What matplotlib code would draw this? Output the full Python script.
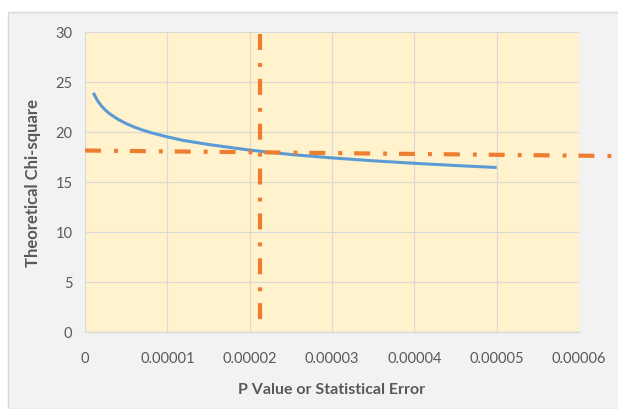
import matplotlib
matplotlib.use("Agg")
from matplotlib import pyplot as plt
from matplotlib.patches import Rectangle

# curve: theoretical chi-square vs p value
p_values = [0.000001, 0.0000015, 0.000002, 0.0000025, 0.000003, 0.000004,
            0.000005, 0.000006, 0.000007, 0.000008, 0.00001, 0.000012,
            0.000015, 0.00002, 0.000025, 0.00003, 0.000035, 0.00004,
            0.000045, 0.00005]
chi_square = [23.93, 23.16, 22.60, 22.17, 21.82, 21.27,
              20.84, 20.49, 20.19, 19.94, 19.51, 19.15,
              18.75, 18.19, 17.75, 17.41, 17.12, 16.87,
              16.65, 16.45]

# hand-drawn guide lines
h_line_x = [0.0, 0.000064]
h_line_y = [18.15, 17.6]
v_line_x = [0.0000213, 0.0000213]
v_line_y = [29.8, 0.3]

x_ticks = [0, 0.00001, 0.00002, 0.00003, 0.00004, 0.00005, 0.00006]
x_tick_labels = ["0", "0.00001", "0.00002", "0.00003", "0.00004", "0.00005", "0.00006"]
y_ticks = [0, 5, 10, 15, 20, 25, 30]

plt.rcParams['font.family'] = ['Liberation Sans Narrow', 'Lato', 'DejaVu Sans']
plt.rcParams['lines.scale_dashes'] = False

text_color = "#595959"
grid_color = "#D9D9D9"
orange = "#ED7D31"
blue = "#5B9BD5"

fig = plt.figure(figsize=(6.18, 4.10), dpi=100)
fig.patch.set_facecolor("white")
# gray chart area with thin border, behind the axes
fig.add_artist(Rectangle((8 / 618, 0), 1, 1 - 13 / 410, transform=fig.transFigure,
                         facecolor="#F2F2F2", edgecolor=grid_color, lw=1, zorder=-10))

axes = fig.add_axes([85 / 618, 77 / 410, 494 / 618, 300 / 410])
axes.set_facecolor("#FFF2CC")
axes.plot(p_values, chi_square, color=blue, lw=2.2, solid_capstyle="butt", zorder=3)

dash = (0, (11.5, 9.4, 2.8, 8.6))
axes.plot(h_line_x, h_line_y, color=orange, lw=3.0, linestyle=dash, clip_on=False, zorder=4)
axes.plot(v_line_x, v_line_y, color=orange, lw=3.0, linestyle=dash, clip_on=False, zorder=4)

axes.set_xlim(0, 0.00006)
axes.set_ylim(0, 30)
axes.set_xticks(x_ticks)
axes.set_xticklabels(x_tick_labels)
axes.set_yticks(y_ticks)
axes.grid(True, color=grid_color, lw=0.8)
axes.set_axisbelow(True)
for side in ["top", "right", "left"]:
    axes.spines[side].set_visible(False)
axes.spines["bottom"].set_color(grid_color)
axes.spines["bottom"].set_linewidth(1.0)
axes.tick_params(axis="both", length=0, labelsize=10.5, colors=text_color)
axes.tick_params(axis="x", pad=14)
axes.tick_params(axis="y", pad=9)

axes.set_xlabel("P Value or Statistical Error", fontsize=11.5, fontweight="bold",
                color=text_color, labelpad=12)
axes.set_ylabel("Theoretical Chi-square", fontsize=12, fontweight="bold",
                color=text_color, labelpad=10)

plt.savefig("out.png", dpi=100, facecolor=fig.get_facecolor())
